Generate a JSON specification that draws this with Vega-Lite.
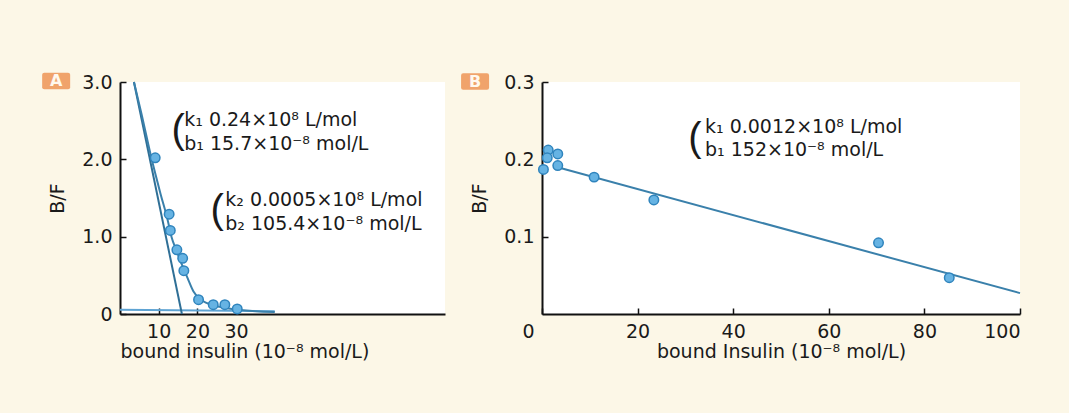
{
  "$schema": "https://vega.github.io/schema/vega-lite/v6.json",
  "background": "#fcf7e7",
  "padding": {"left": 42, "top": 72, "right": 45, "bottom": 55},
  "bounds": "flush",
  "spacing": 97,
  "datasets": {
    "ptsA": [
      {"x": 9.1, "y": 2.02}, {"x": 12.7, "y": 1.29}, {"x": 13.0, "y": 1.08}, {"x": 14.7, "y": 0.83},
      {"x": 16.2, "y": 0.72}, {"x": 16.5, "y": 0.56}, {"x": 20.3, "y": 0.185}, {"x": 24.1, "y": 0.12},
      {"x": 27.1, "y": 0.12}, {"x": 30.3, "y": 0.065}
    ],
    "curveA": [
      {"x": 3.6, "y": 3.0}, {"x": 5.5, "y": 2.6}, {"x": 8.2, "y": 2.0}, {"x": 10.5, "y": 1.55},
      {"x": 12.3, "y": 1.22}, {"x": 13.3, "y": 1.0}, {"x": 14.6, "y": 0.82}, {"x": 16.0, "y": 0.64},
      {"x": 17.5, "y": 0.46}, {"x": 19.0, "y": 0.29}, {"x": 20.5, "y": 0.2}, {"x": 22.5, "y": 0.14},
      {"x": 26.0, "y": 0.09}, {"x": 30.5, "y": 0.055}, {"x": 35.0, "y": 0.035}, {"x": 40.0, "y": 0.025}
    ],
    "line1A": [{"x": 3.6, "y": 3.0}, {"x": 16.0, "y": 0.0}],
    "lineHA": [{"x": 0, "y": 0.055}, {"x": 40, "y": 0.035}],
    "annA": [
      {"x": 16.6, "y": 2.51, "t": "k₁ 0.24×10⁸ L/mol"},
      {"x": 16.6, "y": 2.2, "t": "b₁ 15.7×10⁻⁸ mol/L"},
      {"x": 27.2, "y": 1.47, "t": "k₂ 0.0005×10⁸ L/mol"},
      {"x": 27.2, "y": 1.17, "t": "b₂ 105.4×10⁻⁸ mol/L"}
    ],
    "parenA": [{"x": 15.0, "y": 2.37, "t": "("}, {"x": 25.1, "y": 1.33, "t": "("}],
    "badgeA": [{"x": -16.5, "y": 3.013, "t": "A"}],
    "ptsB": [
      {"x": 0.3, "y": 0.187}, {"x": 1.3, "y": 0.212}, {"x": 1.1, "y": 0.202}, {"x": 3.3, "y": 0.207},
      {"x": 3.3, "y": 0.192}, {"x": 10.9, "y": 0.177}, {"x": 23.4, "y": 0.1475}, {"x": 70.4, "y": 0.092},
      {"x": 85.2, "y": 0.047}
    ],
    "lineB": [{"x": 2.5, "y": 0.191}, {"x": 100, "y": 0.027}],
    "annB": [
      {"x": 34.1, "y": 0.242, "t": "k₁ 0.0012×10⁸ L/mol"},
      {"x": 34.1, "y": 0.212, "t": "b₁ 152×10⁻⁸ mol/L"}
    ],
    "parenB": [{"x": 32.0, "y": 0.226, "t": "("}],
    "badgeB": [{"x": -14.0, "y": 0.3006, "t": "B"}]
  },
  "hconcat": [
    {
      "width": 325,
      "height": 232,
      "encoding": {
        "x": {"field": "x", "type": "quantitative", "scale": {"domain": [0, 84], "nice": false, "zero": false},
          "axis": {"title": "bound insulin  (10⁻⁸ mol/L)", "values": [10, 20, 30], "titleAnchor": "start"}},
        "y": {"field": "y", "type": "quantitative", "scale": {"domain": [0, 3], "nice": false},
          "axis": {"title": "B/F", "values": [0, 1, 2, 3], "labelExpr": "datum.value == 0 ? '0' : format(datum.value, '.1f')"}}
      },
      "layer": [
        {"data": {"name": "lineHA"}, "mark": {"type": "line", "color": "#5ea3d3", "strokeWidth": 2}},
        {"data": {"name": "line1A"}, "mark": {"type": "line", "color": "#2f6f96", "strokeWidth": 2}},
        {"data": {"name": "curveA"}, "mark": {"type": "line", "color": "#3a80ab", "strokeWidth": 2, "interpolate": "monotone"}},
        {"data": {"name": "ptsA"}, "mark": {"type": "point", "filled": true, "fill": "#66b3e3", "stroke": "#2f84bd", "strokeWidth": 1.5, "size": 90, "opacity": 1}},
        {"data": {"name": "annA"}, "mark": {"type": "text", "align": "left", "baseline": "middle", "font": "DejaVu Sans", "fontSize": 19, "color": "#1a1a1a"}, "encoding": {"text": {"field": "t"}}},
        {"data": {"name": "parenA"}, "mark": {"type": "text", "align": "center", "baseline": "middle", "font": "Liberation Sans", "fontSize": 40, "color": "#1a1a1a"}, "encoding": {"text": {"field": "t"}}},
        {"data": {"name": "badgeA"}, "mark": {"type": "point", "clip": false, "filled": true, "color": "#f0a36b", "opacity": 1, "size": 784, "shape": "M-0.85,-0.59 L0.85,-0.59 Q1,-0.59 1,-0.44 L1,0.44 Q1,0.59 0.85,0.59 L-0.85,0.59 Q-1,0.59 -1,0.44 L-1,-0.44 Q-1,-0.59 -0.85,-0.59 Z"}},
        {"data": {"name": "badgeA"}, "mark": {"type": "text", "clip": false, "align": "center", "baseline": "middle", "font": "DejaVu Sans", "fontSize": 16, "fontWeight": "bold", "color": "#fff8ee"}, "encoding": {"text": {"field": "t"}}}
      ]
    },
    {
      "width": 478,
      "height": 232,
      "encoding": {
        "x": {"field": "x", "type": "quantitative", "scale": {"domain": [0, 100], "nice": false},
          "axis": {"title": "bound Insulin  (10⁻⁸ mol/L)", "values": [0, 20, 40, 60, 80, 100],
            "labelOffset": {"condition": {"test": "datum.value === 0", "value": -20}, "value": 0}}},
        "y": {"field": "y", "type": "quantitative", "scale": {"domain": [0, 0.3], "nice": false},
          "axis": {"title": "B/F", "values": [0.1, 0.2, 0.3], "format": ".1f"}}
      },
      "layer": [
        {"data": {"name": "lineB"}, "mark": {"type": "line", "color": "#3a80ab", "strokeWidth": 2}},
        {"data": {"name": "ptsB"}, "mark": {"type": "point", "filled": true, "fill": "#66b3e3", "stroke": "#2f84bd", "strokeWidth": 1.5, "size": 90, "opacity": 1}},
        {"data": {"name": "annB"}, "mark": {"type": "text", "align": "left", "baseline": "middle", "font": "DejaVu Sans", "fontSize": 19, "color": "#1a1a1a"}, "encoding": {"text": {"field": "t"}}},
        {"data": {"name": "parenB"}, "mark": {"type": "text", "align": "center", "baseline": "middle", "font": "Liberation Sans", "fontSize": 40, "color": "#1a1a1a"}, "encoding": {"text": {"field": "t"}}},
        {"data": {"name": "badgeB"}, "mark": {"type": "point", "clip": false, "filled": true, "color": "#f0a36b", "opacity": 1, "size": 784, "shape": "M-0.85,-0.59 L0.85,-0.59 Q1,-0.59 1,-0.44 L1,0.44 Q1,0.59 0.85,0.59 L-0.85,0.59 Q-1,0.59 -1,0.44 L-1,-0.44 Q-1,-0.59 -0.85,-0.59 Z"}},
        {"data": {"name": "badgeB"}, "mark": {"type": "text", "clip": false, "align": "center", "baseline": "middle", "font": "DejaVu Sans", "fontSize": 16, "fontWeight": "bold", "color": "#fff8ee"}, "encoding": {"text": {"field": "t"}}}
      ]
    }
  ],
  "config": {
    "view": {"fill": "white", "stroke": null},
    "axis": {
      "domainColor": "#111111", "domainWidth": 2, "tickColor": "#111111", "tickWidth": 1.5, "tickSize": -6,
      "labelFont": "DejaVu Sans", "labelFontSize": 19, "labelColor": "#1a1a1a",
      "titleFont": "DejaVu Sans", "titleFontSize": 19, "titleFontWeight": "normal", "titleColor": "#1a1a1a",
      "grid": false
    },
    "axisX": {"labelPadding": 14, "titlePadding": 1},
    "axisY": {"labelPadding": 14, "titlePadding": 14}
  }
}
